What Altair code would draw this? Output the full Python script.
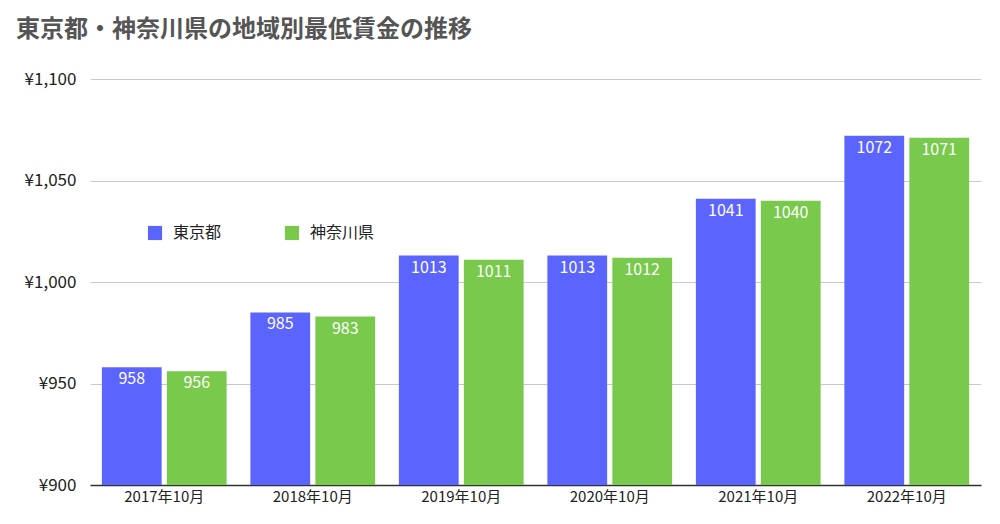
import altair as alt
import pandas as pd

months = ["2017年10月", "2018年10月", "2019年10月", "2020年10月", "2021年10月", "2022年10月"]
tokyo = [958, 985, 1013, 1013, 1041, 1072]
kanagawa = [956, 983, 1011, 1012, 1040, 1071]
series = ["東京都", "神奈川県"]
colors = ["#5C64FE", "#79C94D"]
y_ticks = [900, 950, 1000, 1050, 1100]

rows = []
for m, t, k in zip(months, tokyo, kanagawa):
    rows.append({"month": m, "series": series[0], "value": t})
    rows.append({"month": m, "series": series[1], "value": k})
df = pd.DataFrame(rows)

FONT = "Noto Sans CJK JP"

base = alt.Chart(df).encode(
    x=alt.X("month:N", sort=months, title=None,
            scale=alt.Scale(paddingInner=0.16, paddingOuter=0.08),
            axis=alt.Axis(labelAngle=0, labelFontSize=15, labelColor="#222",
                          labelFont=FONT, domainColor="#333", domainWidth=1.5,
                          ticks=False, grid=False, labelPadding=4)),
    xOffset=alt.XOffset("series:N", sort=series,
                        scale=alt.Scale(paddingInner=0.08, paddingOuter=0)),
)

bars = base.mark_bar().encode(
    y=alt.Y("value:Q", title=None,
            scale=alt.Scale(domain=[900, 1100], zero=False, nice=False),
            axis=alt.Axis(values=y_ticks, labelExpr='"¥" + format(datum.value, ",")',
                          labelFontSize=17, labelColor="#222", labelFont=FONT,
                          domain=False, ticks=False, labelPadding=14,
                          gridColor="#c8c8c8", gridWidth=1)),
    y2=alt.datum(900),
    color=alt.Color("series:N", sort=series,
                    scale=alt.Scale(domain=series, range=colors),
                    legend=alt.Legend(title=None, orient="none", direction="horizontal",
                                      legendX=57, legendY=146, symbolType="square",
                                      symbolSize=200, symbolStrokeWidth=0,
                                      labelFontSize=16, labelFont=FONT, labelColor="#222",
                                      columnPadding=62, labelOffset=10)),
)

labels = base.mark_text(baseline="top", dy=4, color="white", fontSize=16, font=FONT).encode(
    y=alt.Y("value:Q"),
    text=alt.Text("value:Q"),
)

chart = alt.layer(bars, labels).properties(
    width=891, height=406,
    background="white",
    title=alt.TitleParams("東京都・神奈川県の地域別最低賃金の推移", anchor="start",
                          dx=-8, offset=28, fontSize=24, fontWeight="bold",
                          color="#555", font=FONT),
    padding={"left": 82, "top": 71, "right": 10, "bottom": 30},
    autosize=alt.AutoSizeParams(type="none"),
).configure_view(stroke="transparent", strokeWidth=0)

chart.save("out.html", embed_options={"renderer": "svg", "actions": False})
